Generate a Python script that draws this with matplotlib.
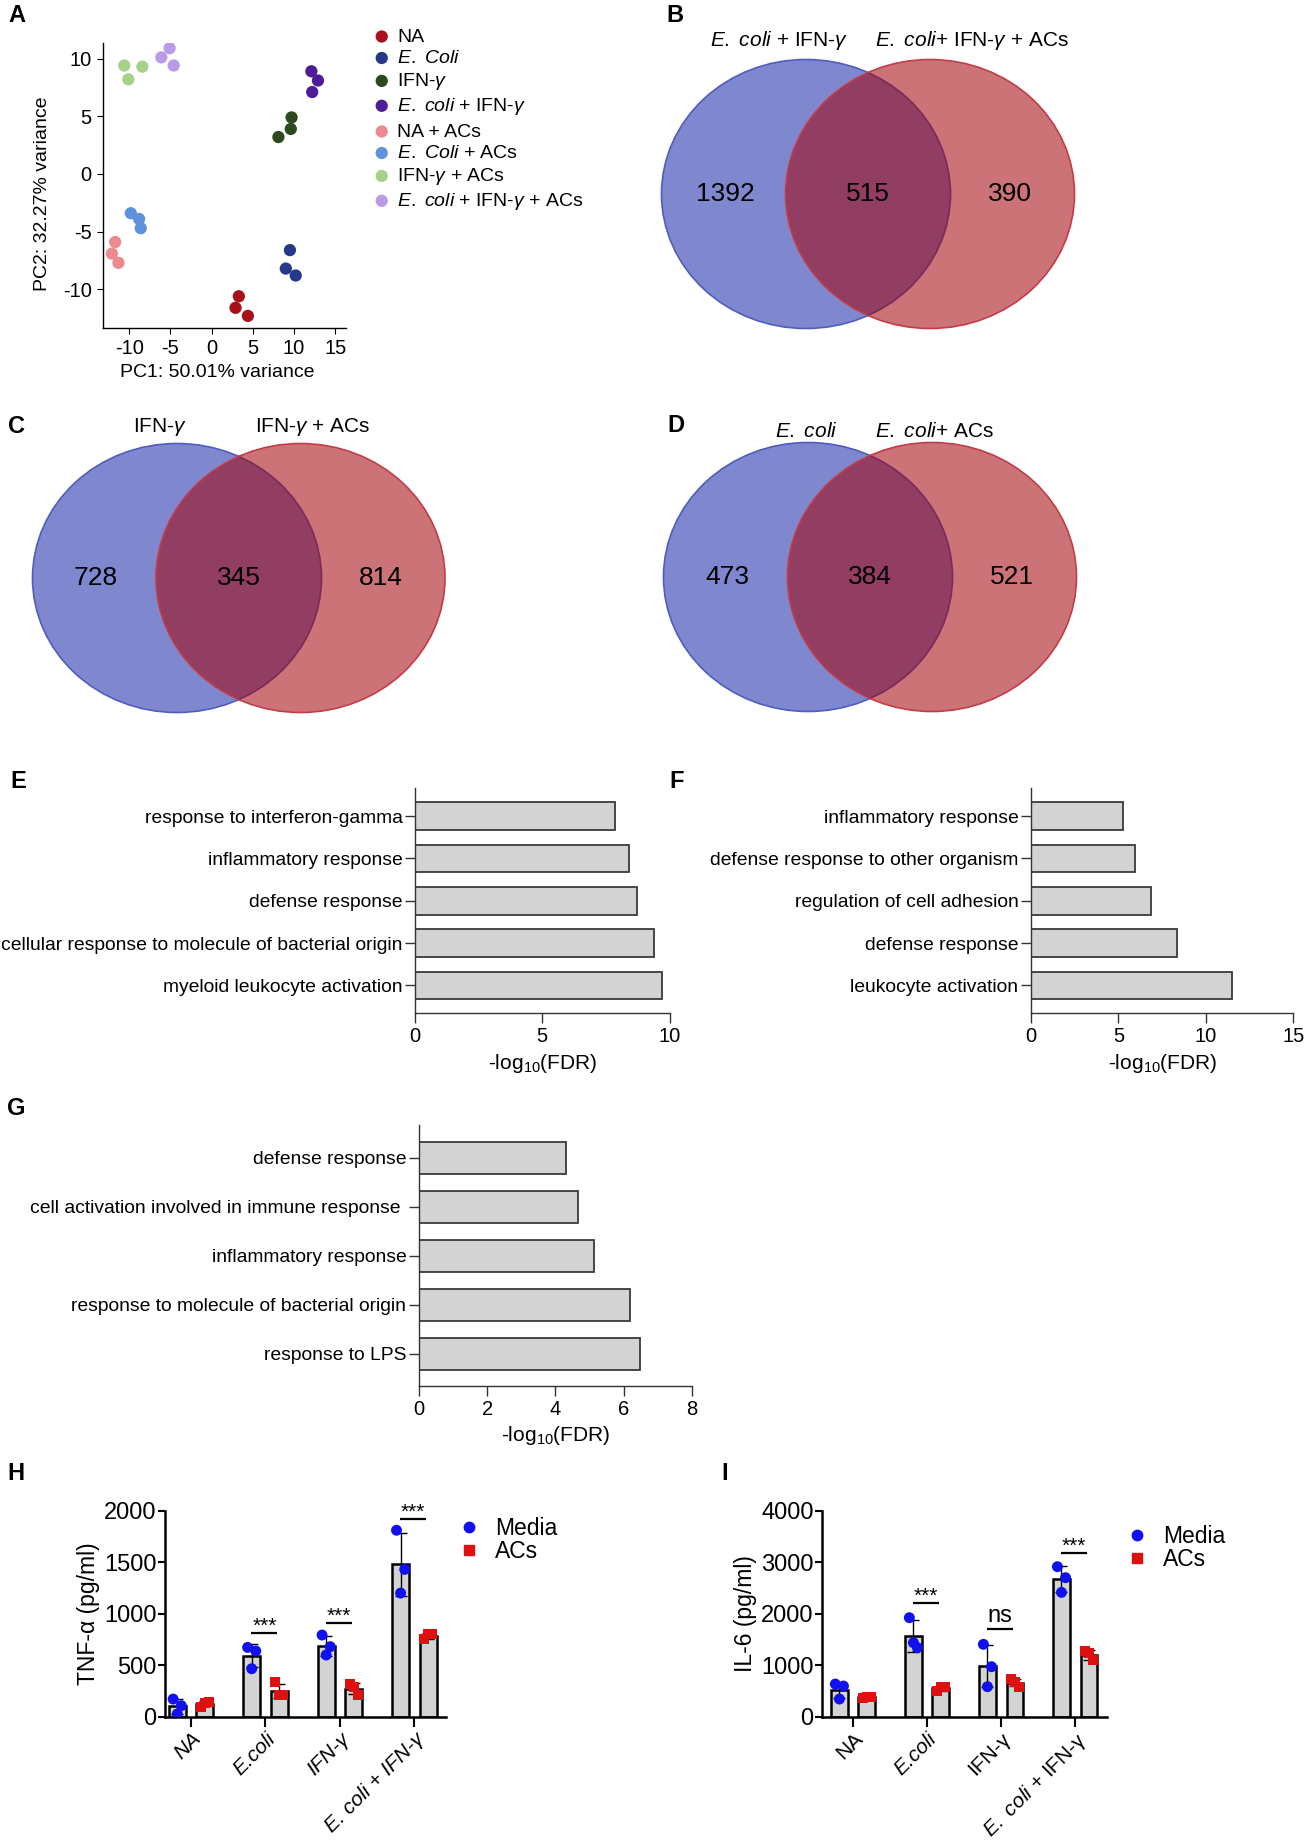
import matplotlib
matplotlib.use('Agg')
import matplotlib.pyplot as plt
import numpy as np
from matplotlib.patches import Ellipse
from matplotlib.lines import Line2D

plt.rcParams['font.family'] = ['Liberation Sans', 'DejaVu Sans']
plt.rcParams['mathtext.fontset'] = 'custom'
plt.rcParams['mathtext.rm'] = 'Liberation Sans'
plt.rcParams['mathtext.it'] = 'Liberation Sans:italic'
plt.rcParams['mathtext.bf'] = 'Liberation Sans:bold'
plt.rcParams['axes.unicode_minus'] = False

# ---------------- DATA ----------------
# Panel A: PCA
pca_labels = ['NA', r'$\it{E.\ Coli}$', r'IFN-$\gamma$', r'$\it{E.\ coli}$ + IFN-$\gamma$',
              'NA + ACs', r'$\it{E.\ Coli}$ + ACs', r'IFN-$\gamma$ + ACs',
              r'$\it{E.\ coli}$ + IFN-$\gamma$ + ACs']
pca_colors = ['#A8101A', '#25398A', '#2B4A1D', '#4D1D98',
              '#EC8A8F', '#5F92DC', '#A5D189', '#B99BE6']
pca_pc1 = [[3.3, 2.9, 4.4], [9.5, 9.0, 10.2], [9.7, 9.6, 8.1], [12.1, 12.9, 12.2],
           [-11.7, -12.1, -11.3], [-9.8, -8.8, -8.6], [-10.6, -8.4, -10.1], [-5.1, -6.1, -4.6]]
pca_pc2 = [[-10.6, -11.6, -12.3], [-6.6, -8.2, -8.8], [4.9, 3.9, 3.2], [8.9, 8.1, 7.1],
           [-5.9, -6.9, -7.7], [-3.4, -3.9, -4.7], [9.4, 9.3, 8.2], [10.9, 10.1, 9.4]]
pca_xticks = [-10, -5, 0, 5, 10, 15]
pca_yticks = [-10, -5, 0, 5, 10]

# Panels B, C, D: Venn counts (left only, shared, right only)
venn_B = [1392, 515, 390]
venn_C = [728, 345, 814]
venn_D = [473, 384, 521]
venn_B_names = [r'$\it{E.\ coli}$ + IFN-$\gamma$', r'$\it{E.\ coli}$+ IFN-$\gamma$ + ACs']
venn_C_names = [r'IFN-$\gamma$', r'IFN-$\gamma$ + ACs']
venn_D_names = [r'$\it{E.\ coli}$', r'$\it{E.\ coli}$+ ACs']

# Panels E, F, G: GO terms
go_E_terms = ['response to interferon-gamma', 'inflammatory response', 'defense response',
              'cellular response to molecule of bacterial origin', 'myeloid leukocyte activation']
go_E_vals = [7.84, 8.42, 8.72, 9.39, 9.72]
go_F_terms = ['inflammatory response', 'defense response to other organism',
              'regulation of cell adhesion', 'defense response', 'leukocyte activation']
go_F_vals = [5.25, 5.95, 6.88, 8.36, 11.49]
go_G_terms = ['defense response', 'cell activation involved in immune response ',
              'inflammatory response', 'response to molecule of bacterial origin', 'response to LPS']
go_G_vals = [4.31, 4.65, 5.12, 6.17, 6.49]

# Panels H, I: cytokines
cyto_groups_H = ['NA', 'E.coli', 'IFN-γ', 'E. coli + IFN-γ']
cyto_groups_I = ['NA', 'E.coli', 'IFN-γ', r'$\it{E.\ coli}$ + IFN-γ']
cyto_italic_I = [False, True, False, False]
tnf_media = [[171, 107, 26], [673, 638, 466], [793, 680, 599], [1810, 1430, 1200]]
tnf_acs = [[97, 146, 129], [333, 210, 210], [317, 210, 291], [751, 803, 803]]
tnf_sig = ['', '***', '***', '***']
tnf_sig_y = [0, 810, 913, 1919]
il6_media = [[634, 595, 343], [1922, 1340, 1437], [1405, 971, 583], [2913, 2699, 2414]]
il6_acs = [[356, 375, 388], [500, 580, 570], [725, 583, 667], [1282, 1100, 1230]]
il6_sig = ['', '***', 'ns', '***']
il6_sig_y = [0, 2202, 1703, 3173]

# ---------------- FIGURE ----------------
W, H = 1305, 1844
fig = plt.figure(figsize=(W / 100, H / 100), dpi=100)


def box(x0, y0, x1, y1):
    return [x0 / W, 1 - y1 / H, (x1 - x0) / W, (y1 - y0) / H]


# ---- Panel A ----
axA = fig.add_axes(box(102.8, 43, 346, 328))
for lbl, col, xs, ys in zip(pca_labels, pca_colors, pca_pc1, pca_pc2):
    axA.scatter(xs, ys, s=78, color=col, edgecolors='none', label=lbl)
axA.set_xlim(-13.2, 16.3)
axA.set_ylim(-13.35, 11.35)
axA.set_xticks(pca_xticks)
axA.set_yticks(pca_yticks)
for s in ['top', 'right']:
    axA.spines[s].set_visible(False)
for s in ['left', 'bottom']:
    axA.spines[s].set_linewidth(1.0)
axA.tick_params(labelsize=14.5, length=4, width=0.8, pad=4)
axA.set_xlabel('PC1: 50.01% variance', fontsize=14)
axA.set_ylabel('PC2: 32.27% variance', fontsize=14)
axA.xaxis.set_label_coords(0.472, -0.125)
axA.yaxis.set_label_coords(-0.215, 0.47)
hA, lA = axA.get_legend_handles_labels()
fig.legend(hA[:4], lA[:4], loc='upper left', bbox_to_anchor=(372 / W, 1 - 28 / H), frameon=False,
           fontsize=14, handlelength=1.0, handletextpad=0.3, labelspacing=0.2,
           borderpad=0, borderaxespad=0, markerscale=1.0)
fig.legend(hA[4:], lA[4:], loc='upper left', bbox_to_anchor=(372 / W, 1 - 123 / H), frameon=False,
           fontsize=14, handlelength=1.0, handletextpad=0.3, labelspacing=0.2,
           borderpad=0, borderaxespad=0, markerscale=1.0)


# ---- Bar panels E, F, G ----
def hbar(rect, terms, vals, xmax, xticks):
    ax = fig.add_axes(rect)
    n = len(terms)
    ax.barh(np.arange(n), vals, height=0.655, color='#D3D3D3', edgecolor='#3a3a3a', linewidth=1.3)
    ax.set_ylim(n - 1 + 0.66, -0.67)
    ax.set_xlim(0, xmax)
    ax.set_xticks(xticks)
    ax.set_yticks(np.arange(n))
    ax.set_yticklabels(terms)
    for s in ['top', 'right']:
        ax.spines[s].set_visible(False)
    for s in ['left', 'bottom']:
        ax.spines[s].set_linewidth(1.0)
        ax.spines[s].set_color('#333333')
    ax.tick_params(axis='y', labelsize=13.9, length=7, width=1, pad=2, color='#333333')
    ax.tick_params(axis='x', labelsize=14.5, length=7, width=1, pad=3, color='#333333')
    ax.set_xlabel(r'-log$_{10}$(FDR)', fontsize=15, labelpad=4)
    return ax


hbar(box(415, 787.7, 669.6, 1013.3), go_E_terms, go_E_vals, 10, [0, 5, 10])
hbar(box(1031, 787.7, 1293.3, 1013.3), go_F_terms, go_F_vals, 15, [0, 5, 10, 15])
hbar(box(418.8, 1125, 692, 1386), go_G_terms, go_G_vals, 8, [0, 2, 4, 6, 8])


# ---- Cytokine panels H, I ----
def cyto(rect, groups, media, acs, sig, sig_y, ymax, yticks, ylabel, italic, xlo):
    ax = fig.add_axes(rect)
    x = np.arange(len(groups))
    off, bw = 0.185, 0.225
    jit = np.array([-0.055, 0.055, 0.0])
    for data, sgn, mk, col in [(media, -1, 'o', '#1010F0'), (acs, 1, 's', '#E01010')]:
        arr = np.array(data, dtype=float)
        m = arr.mean(axis=1)
        sd = arr.std(axis=1, ddof=1)
        xp = x + sgn * off
        ax.bar(xp, m, width=bw, color='#D3D3D3', edgecolor='black', linewidth=1.8, zorder=2)
        ax.errorbar(xp, m, yerr=sd, fmt='none', ecolor='black', elinewidth=1.0,
                    capsize=4, capthick=1.0, zorder=3)
        for i in range(len(groups)):
            ax.scatter(xp[i] + jit, arr[i], marker=mk, s=62 if mk == 'o' else 52,
                       color=col, edgecolors='none', zorder=4)
    for i, (s, yv) in enumerate(zip(sig, sig_y)):
        if s:
            ax.plot([x[i] - 0.19, x[i] + 0.16], [yv, yv], color='black', lw=1.6, zorder=3,
                    solid_capstyle='butt')
            fs = 15 if s.startswith('*') else 17
            ax.annotate(s, (x[i] - 0.015, yv), xytext=(0, 1.5 if s == 'ns' else -2),
                        textcoords='offset points', ha='center', va='bottom', fontsize=fs)
    ax.set_xlim(xlo, 3.43)
    ax.set_ylim(0, ymax)
    ax.set_yticks(yticks)
    ax.set_xticks(x)
    tls = ax.set_xticklabels(groups, rotation=45, ha='right', va='top', rotation_mode='anchor',
                             fontsize=15)
    for t, it in zip(tls, italic):
        t.set_fontstyle('italic' if it else 'normal')
    for s in ['top', 'right']:
        ax.spines[s].set_visible(False)
    for s in ['left', 'bottom']:
        ax.spines[s].set_linewidth(1.8)
    ax.tick_params(axis='y', labelsize=17, length=5, width=1.5, pad=1)
    ax.tick_params(axis='x', length=7, width=1.5, pad=2)
    ax.set_ylabel(ylabel, fontsize=16.5, labelpad=3)
    return ax


axH = cyto(box(164.6, 1510.7, 446.4, 1716.7), cyto_groups_H, tnf_media, tnf_acs, tnf_sig,
           tnf_sig_y, 2000, [0, 500, 1000, 1500, 2000], 'TNF-α (pg/ml)', [True] * 4, -0.355)
axI = cyto(box(822, 1510.7, 1107, 1716.7), cyto_groups_I, il6_media, il6_acs, il6_sig,
           il6_sig_y, 4000, [0, 1000, 2000, 3000, 4000], 'IL-6 (pg/ml)', cyto_italic_I, -0.42)

leg_handles = [Line2D([], [], marker='o', ls='none', color='#1010F0', markersize=7.5),
               Line2D([], [], marker='s', ls='none', color='#E01010', markersize=7)]
for anchor in [(458, 1517), (1126, 1525)]:
    fig.legend(leg_handles, ['Media', 'ACs'], loc='upper left',
               bbox_to_anchor=(anchor[0] / W, 1 - anchor[1] / H), frameon=False,
               fontsize=16.5, handlelength=1.0, handletextpad=0.6, labelspacing=0.0,
               borderpad=0, borderaxespad=0)

# ---- Overlay: Venn diagrams and panel letters ----
ov = fig.add_axes([0, 0, 1, 1])
ov.set_xlim(0, W)
ov.set_ylim(H, 0)
ov.axis('off')
ov.patch.set_alpha(0)

blue_face = (22 / 255, 39 / 255, 166 / 255, 0.55)
red_face = (162 / 255, 0 / 255, 10 / 255, 0.55)


def venn(cx_left, cx_right, cy, counts, names, name_y, name_x):
    ew, eh = 289, 269
    ov.add_patch(Ellipse((cx_left, cy), ew, eh, facecolor=blue_face, edgecolor='#4F5CC0', lw=1.2))
    ov.add_patch(Ellipse((cx_right, cy), ew, eh, facecolor=red_face, edgecolor='#C23C48', lw=1.2))
    xs = [cx_left - 81, (cx_left + cx_right) / 2, cx_right + 80]
    for xx, c in zip(xs, counts):
        ov.text(xx, cy, str(c), ha='center', va='center', fontsize=19)
    for xx, nm in zip(name_x, names):
        ov.text(xx, name_y, nm, ha='center', va='center', fontsize=15)


venn(806, 930, 194, venn_B, venn_B_names, 40.7, [779.5, 971.6])
venn(177, 300.5, 578, venn_C, venn_C_names, 426.7, [159.6, 313])
venn(808, 932, 577, venn_D, venn_D_names, 431.5, [806.5, 934.7])

for letter, (lx, ly) in zip('ABCDEFGHI', [(16.6, 15), (675, 15), (16.6, 426.7), (676, 425.6),
                                          (17.9, 781.7), (677, 781.7), (16, 1108),
                                          (15.6, 1473), (725, 1473)]):
    ov.text(lx, ly, letter, ha='center', va='center', fontsize=17, fontweight='bold')

fig.savefig('out.png', dpi=100)
